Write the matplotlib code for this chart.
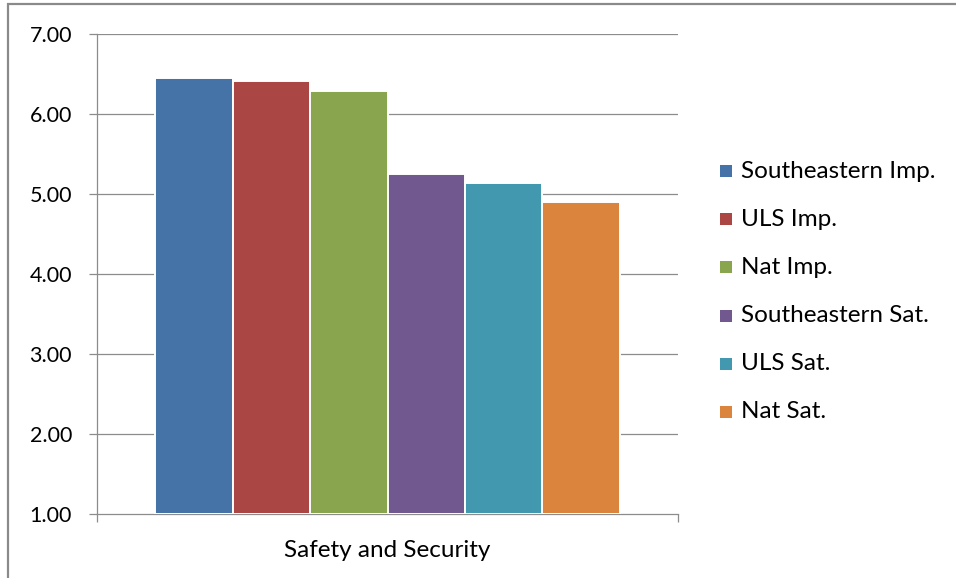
import matplotlib
matplotlib.use("Agg")
import matplotlib.pyplot as plt
from matplotlib.patches import Rectangle

plt.rcParams['font.family'] = ['Lato', 'DejaVu Sans']

category = "Safety and Security"
series = ["Southeastern Imp.", "ULS Imp.", "Nat Imp.",
          "Southeastern Sat.", "ULS Sat.", "Nat Sat."]
values = [6.44, 6.41, 6.28, 5.24, 5.13, 4.89]
colors = ["#4572A7", "#AA4643", "#89A54E", "#71588F", "#4198AF", "#DB843D"]
yticks = [1.0, 2.0, 3.0, 4.0, 5.0, 6.0, 7.0]

W, H = 956, 578
fig = plt.figure(figsize=(W / 100, H / 100), dpi=100)

# outer chart frame
fig.add_artist(Rectangle((8 / W, -0.05), 1.1, 1 - 4 / H + 0.05,
                         transform=fig.transFigure, fill=False,
                         edgecolor="#8a8a8a", linewidth=1.6))

left, right = 97 / W, 678 / W
bottom, top = 1 - 513.5 / H, 1 - 33.5 / H
ax = fig.add_axes([left, bottom, right - left, top - bottom])

grid_col = "#8c8c8c"
for y in yticks[1:]:
    ax.axhline(y, color=grid_col, linewidth=0.9, zorder=0)

pos = list(range(len(values)))
ax.bar(pos, [v - 1.0 for v in values], bottom=1.0, width=1.0,
       color=colors, edgecolor="white", linewidth=1.4, zorder=3)

ax.set_xlim(-1.25, 6.25)
ax.set_ylim(1.0, 7.0)

for s in ["top", "right"]:
    ax.spines[s].set_visible(False)
for s in ["left", "bottom"]:
    ax.spines[s].set_color(grid_col)
    ax.spines[s].set_linewidth(0.9)

ax.set_yticks(yticks)
ax.set_yticklabels([f"{y:.2f}" for y in yticks], fontsize=15.5, color="black")
ax.tick_params(axis="y", length=6, width=0.9, color=grid_col, pad=12)

ax.set_xticks([2.5])
ax.set_xticklabels([category], fontsize=17.5, color="black")
ax.tick_params(axis="x", which="major", length=0, pad=19)
ax.set_xticks([-1.25, 6.25], minor=True)
ax.tick_params(axis="x", which="minor", length=6, width=0.9, color=grid_col)

# legend: colour square plus label, one row per series
row0, step = 171, 48.2
for i, (name, c) in enumerate(zip(series, colors)):
    yc = row0 + i * step
    fig.add_artist(Rectangle((720 / W, 1 - (yc + 6) / H), 12 / W, 12 / H,
                             transform=fig.transFigure, facecolor=c,
                             edgecolor="none"))
    fig.text(741 / W, 1 - yc / H, name, fontsize=17.5, color="black",
             ha="left", va="center")

fig.savefig("out.png", dpi=100, facecolor="white")
